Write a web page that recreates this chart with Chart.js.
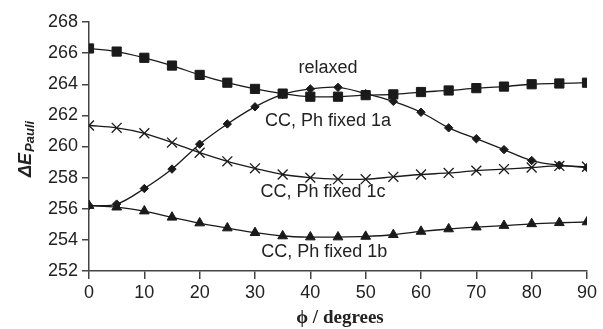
<!DOCTYPE html>
<html>
<head>
<meta charset="utf-8">
<script src="https://cdn.jsdelivr.net/npm/chart.js@4"></script>
<style>
html,body{margin:0;padding:0;background:#fff;}
#wrap{width:603px;height:329px;position:relative;}
</style>
</head>
<body>
<div id="wrap"><canvas id="c" width="603" height="329"></canvas></div>
<script>
const angles = [0,5,10,15,20,25,30,35,40,45,50,55,60,65,70,75,80,85,90];
const relaxed = [266.3,266.1,265.7,265.2,264.6,264.1,263.7,263.4,263.2,263.2,263.3,263.35,263.5,263.6,263.75,263.85,264.0,264.05,264.1];
const fixed1a = [256.2,256.3,257.3,258.55,260.15,261.45,262.55,263.35,263.7,263.8,263.4,262.9,262.2,261.2,260.5,259.8,259.1,258.8,258.65];
const fixed1c = [261.35,261.2,260.85,260.25,259.6,259.05,258.6,258.2,258.0,257.9,257.9,258.05,258.2,258.3,258.45,258.55,258.65,258.75,258.7];
const fixed1b = [256.2,256.1,255.85,255.45,255.08,254.76,254.46,254.25,254.18,254.18,254.22,254.33,254.54,254.7,254.82,254.92,255.03,255.1,255.15];
const xTicks = [0,10,20,30,40,50,60,70,80,90];
const yTicks = [252,254,256,258,260,262,264,266,268];
const labels = [
  {text:'relaxed', x:43.2, y:265.05},
  {text:'CC, Ph fixed 1a', x:43.2, y:261.66},
  {text:'CC, Ph fixed 1c', x:42.3, y:257.1},
  {text:'CC, Ph fixed 1b', x:42.5, y:253.2}
];
const xTitle = 'ϕ / degrees';
const yTitleMain = 'ΔE';
const yTitleSub = 'Pauli';

const pts = arr => arr.map((v,i)=>({x:angles[i], y:v}));
const ink = '#1a1a1a';
function ds(data, style, r){
  return {data: pts(data), borderColor: ink, backgroundColor: ink, borderWidth: 1.3,
    pointStyle: style, pointRadius: r, pointHoverRadius: r, pointBorderWidth: style==='crossRot'?1.3:1,
    tension: 0.35, showLine: true, fill:false};
}

const annot = {
  id:'annot',
  afterDraw(chart){
    const ctx = chart.ctx, xs = chart.scales.x, ys = chart.scales.y;
    ctx.save();
    ctx.fillStyle = '#222';
    ctx.font = '18px "Liberation Sans", Arial, sans-serif';
    ctx.textAlign = 'center'; ctx.textBaseline = 'middle';
    labels.forEach(l=>ctx.fillText(l.text, xs.getPixelForValue(l.x), ys.getPixelForValue(l.y)));
    // x title
    ctx.font = 'bold 19px "Liberation Serif", "Times New Roman", serif';
    ctx.textBaseline = 'alphabetic';
    ctx.fillText(xTitle, 340, 323);
    // y title rotated
    ctx.translate(31, 177);
    ctx.rotate(-Math.PI/2);
    ctx.textAlign = 'left';
    ctx.font = 'bold italic 18px "Liberation Sans", Arial, sans-serif';
    ctx.fillText(yTitleMain, 0, 0);
    const w = ctx.measureText(yTitleMain).width;
    ctx.font = 'bold italic 13px "Liberation Sans", Arial, sans-serif';
    ctx.fillText(yTitleSub, w + 1, 3);
    ctx.restore();
  }
};

new Chart(document.getElementById('c'), {
  type: 'scatter',
  data: { datasets: [
    ds(relaxed, 'rect', 6.5),
    ds(fixed1a, 'rectRot', 4.2),
    ds(fixed1c, 'crossRot', 7),
    ds(fixed1b, 'triangle', 5.6)
  ]},
  options: {
    responsive: false, animation: false, devicePixelRatio: 1,
    layout: { padding: { top: 22, right: 16, left: 0, bottom: 0 } },
    plugins: { legend: {display:false}, tooltip: {enabled:false} },
    scales: {
      x: {
        type: 'linear', min: 0, max: 90,
        afterBuildTicks: s => { s.ticks = xTicks.map(v=>({value:v})); },
        afterFit: s => { s.height = 58; },
        grid: { display: true, drawOnChartArea: false, drawTicks: true, tickLength: 8, color: '#444', lineWidth: 1.5 },
        border: { display: true, color: '#444', width: 1.5 },
        ticks: { color: '#222', font: { size: 18, family: '"Liberation Sans", Arial, sans-serif' }, padding: 3, maxRotation: 0, autoSkip: false }
      },
      y: {
        type: 'linear', min: 252, max: 268,
        afterBuildTicks: s => { s.ticks = yTicks.map(v=>({value:v})); },
        afterFit: s => { s.width = 89; },
        grid: { display: true, drawOnChartArea: false, drawTicks: true, tickLength: 7, color: '#444', lineWidth: 1.5 },
        border: { display: true, color: '#444', width: 1.5 },
        ticks: { color: '#222', font: { size: 18, family: '"Liberation Sans", Arial, sans-serif' }, padding: 4, autoSkip: false }
      }
    }
  },
  plugins: [annot]
});
</script>
</body>
</html>
